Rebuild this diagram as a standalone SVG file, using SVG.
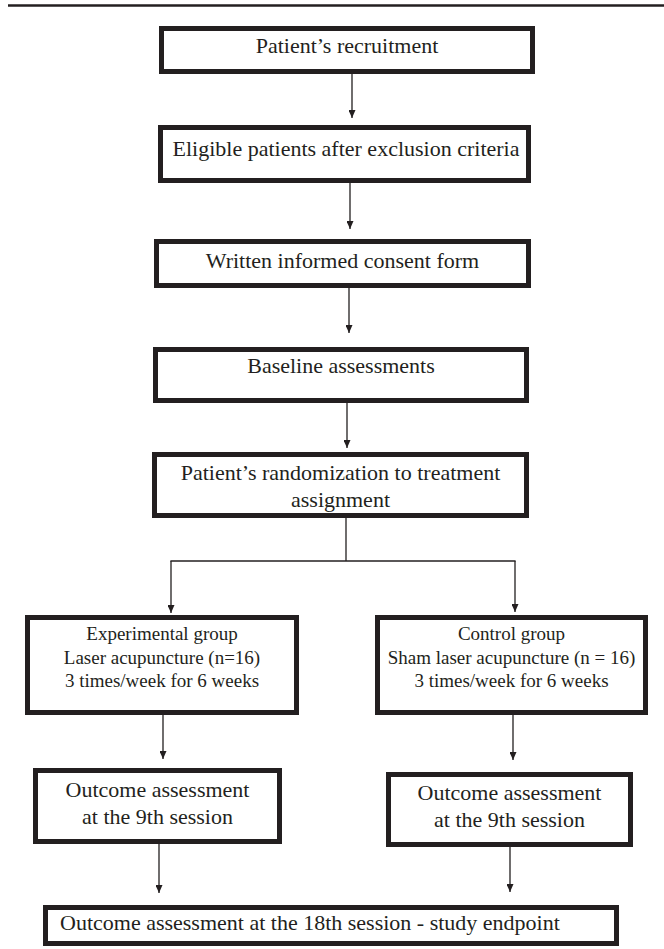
<svg xmlns="http://www.w3.org/2000/svg" width="664" height="949" viewBox="0 0 664 949">
<style>
.box{fill:#fff;stroke:#231f20;stroke-width:5}
.t{font-family:"Liberation Serif","Times New Roman",serif;font-size:22px;fill:#231f20;text-anchor:middle}
.s{font-size:19px}
.c{fill:none;stroke:#231f20;stroke-width:1.3}
</style>
<defs>
<marker id="ah" viewBox="0 0 8 7" refX="8" refY="3.5" markerWidth="8" markerHeight="7" markerUnits="userSpaceOnUse" orient="auto">
<path d="M0,0 L8,3.5 L0,7 z" fill="#231f20"/>
</marker>
</defs>
<rect width="664" height="949" fill="#fff"/>
<line x1="8" y1="5.5" x2="664" y2="5.5" stroke="#231f20" stroke-width="2.3"/>
<g id="n1"><rect class="box" x="161.5" y="28.5" width="371" height="43"/><text class="t" x="347" y="53">Patient’s recruitment</text></g>
<g id="n2"><rect class="box" x="160.5" y="127.5" width="368" height="53"/><text class="t" x="346" y="156">Eligible patients after exclusion criteria</text></g>
<g id="n3"><rect class="box" x="156.5" y="241.5" width="372" height="44"/><text class="t" x="342.5" y="268">Written informed consent form</text></g>
<g id="n4"><rect class="box" x="155.5" y="349.5" width="371" height="51"/><text class="t" x="341" y="373">Baseline assessments</text></g>
<g id="n5"><rect class="box" x="154.5" y="454.5" width="372" height="61"/><text class="t" x="340.5" y="480">Patient’s randomization to treatment</text><text class="t" x="340.5" y="507">assignment</text></g>
<g id="n6"><rect class="box" x="27.5" y="617.5" width="269" height="95"/><text class="t s" x="162" y="640">Experimental group</text><text class="t s" x="162" y="664">Laser acupuncture (n=16)</text><text class="t s" x="162" y="687">3 times/week for 6 weeks</text></g>
<g id="n7"><rect class="box" x="377.5" y="617.5" width="268" height="95"/><text class="t s" x="511.5" y="640">Control group</text><text class="t s" x="511.5" y="664">Sham laser acupuncture (n = 16)</text><text class="t s" x="511.5" y="687">3 times/week for 6 weeks</text></g>
<g id="n8"><rect class="box" x="35.5" y="770.5" width="244" height="71"/><text class="t" x="157.5" y="797">Outcome assessment</text><text class="t" x="157.5" y="824">at the 9th session</text></g>
<g id="n9"><rect class="box" x="388.5" y="774.5" width="242" height="70"/><text class="t" x="509.5" y="800">Outcome assessment</text><text class="t" x="509.5" y="827">at the 9th session</text></g>
<g id="n10"><rect class="box" x="45.5" y="907.5" width="571" height="36"/><text class="t" x="60" y="930" style="text-anchor:start">Outcome assessment at the 18th session - study endpoint</text></g>
<g id="connectors">
<line class="c" x1="352" y1="74" x2="352" y2="118" marker-end="url(#ah)"/>
<line class="c" x1="350" y1="183" x2="350" y2="229" marker-end="url(#ah)"/>
<line class="c" x1="349" y1="288" x2="349" y2="333" marker-end="url(#ah)"/>
<line class="c" x1="347" y1="403" x2="347" y2="448" marker-end="url(#ah)"/>
<line class="c" x1="346" y1="518" x2="346" y2="561"/>
<line class="c" x1="170.4" y1="561" x2="515.6" y2="561"/>
<line class="c" x1="171" y1="561" x2="171" y2="613" marker-end="url(#ah)"/>
<line class="c" x1="515" y1="561" x2="515" y2="612" marker-end="url(#ah)"/>
<line class="c" x1="163" y1="715" x2="163" y2="759" marker-end="url(#ah)"/>
<line class="c" x1="513" y1="715" x2="513" y2="760" marker-end="url(#ah)"/>
<line class="c" x1="159" y1="844" x2="159" y2="893" marker-end="url(#ah)"/>
<line class="c" x1="510" y1="847" x2="510" y2="892" marker-end="url(#ah)"/>
</g>
</svg>
